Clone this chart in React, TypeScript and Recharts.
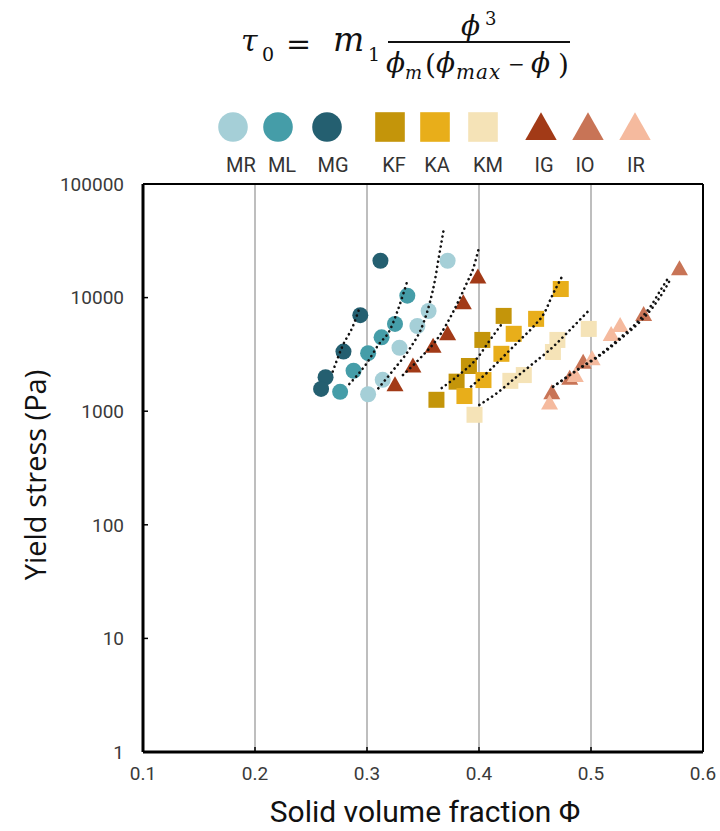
import React from 'react'
import { ScatterChart, Scatter, XAxis, YAxis, CartesianGrid, ReferenceLine } from 'recharts'

// axis ticks
const xTicks = [0.1, 0.2, 0.3, 0.4, 0.5, 0.6]
const yTicks = [1, 10, 100, 1000, 10000, 100000]

// measured points [phi, yield stress Pa]
const MR = [[0.372, 21100], [0.355, 7620], [0.345, 5620], [0.329, 3620], [0.314, 1890], [0.301, 1410]]
const ML = [[0.336, 10400], [0.325, 5860], [0.313, 4470], [0.301, 3240], [0.288, 2270], [0.276, 1480]]
const MG = [[0.312, 21100], [0.294, 7000], [0.279, 3350], [0.263, 1990], [0.259, 1570]]
const KF = [[0.422, 6900], [0.403, 4240], [0.391, 2500], [0.38, 1820], [0.362, 1260]]
const KA = [[0.473, 11900], [0.451, 6500], [0.431, 4800], [0.42, 3200], [0.404, 1880], [0.387, 1360]]
const KM = [[0.498, 5300], [0.47, 4240], [0.466, 3320], [0.44, 2080], [0.428, 1850], [0.396, 930]]
const IG = [[0.399, 15300], [0.386, 9100], [0.372, 4850], [0.359, 3770], [0.341, 2520], [0.325, 1730]]
const IO = [[0.579, 18100], [0.547, 7170], [0.493, 2730], [0.481, 1970], [0.465, 1470]]
const IR = [[0.526, 5740], [0.518, 4790], [0.501, 2920], [0.486, 2080], [0.463, 1190]]

// dotted model curves
const fitMG = [[0.2694, 2230], [0.2786, 3830], [0.2872, 5540], [0.2938, 8420]]
const fitML = [[0.2842, 1735], [0.2997, 2640], [0.3101, 3830], [0.3205, 5190], [0.327, 7510], [0.336, 14000]]
const fitMR = [[0.3101, 1590], [0.3235, 2305], [0.3384, 3580], [0.3503, 5940], [0.3563, 9200], [0.3607, 14290], [0.3637, 21400], [0.3688, 41200]]
const fitIG = [[0.3321, 2083], [0.3473, 2920], [0.3652, 4690], [0.377, 7510], [0.389, 13360], [0.3949, 18100], [0.3994, 26200]]
const fitKF = [[0.3667, 1600], [0.3801, 2013], [0.3994, 3020], [0.4098, 4235], [0.4217, 6100]]
const fitKA = [[0.3929, 1650], [0.4098, 2305], [0.4247, 3235], [0.4366, 4235], [0.4485, 5545], [0.4589, 7510], [0.4649, 10180], [0.4738, 15100]]
const fitKM = [[0.4003, 1135], [0.4158, 1438], [0.4337, 2013], [0.4485, 2640], [0.4663, 3700], [0.4783, 4850], [0.4985, 7780]]
const fitIO = [[0.4663, 1644], [0.4902, 2387], [0.5065, 3020], [0.5288, 4530], [0.5408, 5740], [0.5556, 8320], [0.5646, 11270], [0.5714, 14790]]
const fitIR = [[0.466, 1640], [0.49, 2400], [0.506, 3050], [0.528, 4600], [0.54, 5900], [0.554, 8600], [0.562, 11600], [0.568, 14400]]

const series = [
  { name: 'MR', color: '#A5CFD7', kind: 'circle', data: MR, fit: fitMR, lx: 233, tx: 241 },
  { name: 'ML', color: '#459DA8', kind: 'circle', data: ML, fit: fitML, lx: 278, tx: 282 },
  { name: 'MG', color: '#245F70', kind: 'circle', data: MG, fit: fitMG, lx: 327, tx: 333 },
  { name: 'KF', color: '#C4950A', kind: 'square', data: KF, fit: fitKF, lx: 390, tx: 394 },
  { name: 'KA', color: '#E8AE1A', kind: 'square', data: KA, fit: fitKA, lx: 435, tx: 437 },
  { name: 'KM', color: '#F5E3B7', kind: 'square', data: KM, fit: fitKM, lx: 483, tx: 488 },
  { name: 'IG', color: '#A23A17', kind: 'triangle', data: IG, fit: fitIG, lx: 541, tx: 544 },
  { name: 'IO', color: '#C87456', kind: 'triangle', data: IO, fit: fitIO, lx: 588, tx: 585 },
  { name: 'IR', color: '#F5BA9E', kind: 'triangle', data: IR, fit: fitIR, lx: 635, tx: 636 },
]

const toPts = (arr: number[][]) => arr.map(([x, y]) => ({ x, y }))

function Marker({ cx, cy, kind, color, s = 1 }: any) {
  if (cx == null || cy == null) return <g />
  if (kind === 'circle') return <circle cx={cx} cy={cy} r={8 * s} fill={color} />
  if (kind === 'square') return <rect x={cx - 8 * s} y={cy - 8 * s} width={16 * s} height={16 * s} fill={color} />
  return (
    <polygon
      points={`${cx},${cy - 8 * s} ${cx + 8.5 * s},${cy + 7 * s} ${cx - 8.5 * s},${cy + 7 * s}`}
      fill={color}
    />
  )
}

const tickFont = { fontFamily: 'Roboto', fontSize: 19, fill: '#3a3a3a' }
const serif = 'DejaVu Serif'

export default function App() {
  return (
    <div style={{ position: 'absolute', left: 0, top: 0, width: 720, height: 831, background: '#fff' }}>
      <ScatterChart width={720} height={831} margin={{ top: 184, right: 17, bottom: 39, left: 0 }}>
        <CartesianGrid horizontal={false} stroke="#a8a8a8" strokeWidth={1.5} />
        <XAxis
          type="number"
          dataKey="x"
          domain={[0.1, 0.6]}
          ticks={xTicks}
          height={40}
          tickFormatter={(v) => v.toFixed(1)}
          tick={tickFont}
          tickSize={-5}
          tickMargin={20}
          axisLine={{ stroke: '#000', strokeWidth: 3 }}
          tickLine={{ stroke: '#000', strokeWidth: 1.5 }}
        />
        <YAxis
          type="number"
          dataKey="y"
          scale="log"
          domain={[1, 100000]}
          ticks={yTicks}
          allowDataOverflow
          width={143}
          tickFormatter={(v) => String(v)}
          tick={tickFont}
          tickSize={-5}
          tickMargin={24}
          axisLine={{ stroke: '#000', strokeWidth: 3 }}
          tickLine={{ stroke: '#000', strokeWidth: 1.5 }}
        />
        <ReferenceLine y={100000} stroke="#000" strokeWidth={2} />
        <ReferenceLine x={0.6} stroke="#000" strokeWidth={2} />
        {series.map((s) => (
          <Scatter
            key={s.name}
            name={s.name}
            data={toPts(s.data)}
            isAnimationActive={false}
            shape={(p: any) => <Marker cx={p.cx} cy={p.cy} kind={s.kind} color={s.color} />}
          />
        ))}
        {series.map((s) => (
          <Scatter
            key={'fit' + s.name}
            data={toPts(s.fit)}
            isAnimationActive={false}
            line={{ stroke: '#111', strokeWidth: 2.6, strokeDasharray: '0.1 5', strokeLinecap: 'round' }}
            lineJointType="monotoneX"
            shape={() => <g />}
          />
        ))}
      </ScatterChart>

      <svg width={720} height={831} style={{ position: 'absolute', left: 0, top: 0, pointerEvents: 'none' }}>
        {/* formula */}
        <g fill="#111" fontFamily={serif}>
          <text fontSize={30}>
            <tspan x={241} y={51} fontStyle="italic">τ</tspan>
            <tspan x={262} y={61} fontSize={19}>0</tspan>
            <tspan x={286} y={54}>=</tspan>
            <tspan x={333} y={51} fontSize={33} fontStyle="italic">m</tspan>
            <tspan x={368} y={61} fontSize={19}>1</tspan>
          </text>
          <line x1={388} x2={570} y1={42} y2={42} stroke="#111" strokeWidth={2} />
          <text fontSize={28}>
            <tspan x={461} y={35} fontStyle="italic">ϕ</tspan>
            <tspan x={485} y={25} fontSize={18}>3</tspan>
          </text>
          <text fontSize={28}>
            <tspan x={386} y={72} fontStyle="italic">ϕ</tspan>
            <tspan x={405} y={79} fontSize={18} fontStyle="italic">m</tspan>
            <tspan x={425} y={74}>(</tspan>
            <tspan x={436} y={72} fontStyle="italic">ϕ</tspan>
            <tspan x={456} y={79} fontSize={20} fontStyle="italic" letterSpacing={1}>max</tspan>
            <tspan x={508} y={71} fontSize={20}>−</tspan>
            <tspan x={531} y={72} fontStyle="italic">ϕ</tspan>
            <tspan x={558} y={74}>)</tspan>
          </text>
        </g>
        {/* legend */}
        {series.map((s) => (
          <g key={'lg' + s.name}>
            <Marker cx={s.lx} cy={127} kind={s.kind} color={s.color} s={1.85} />
            <text x={s.tx} y={172} textAnchor="middle" fontFamily="Roboto" fontSize={20} fill="#333">
              {s.name}
            </text>
          </g>
        ))}
        {/* axis titles */}
        <text x={425} y={822} textAnchor="middle" fontFamily="Roboto" fontSize={30} fill="#111">
          Solid volume fraction Φ
        </text>
        <text
          x={0}
          y={0}
          transform="translate(46 475) rotate(-90)"
          textAnchor="middle"
          fontFamily="Open Sans"
          fontSize={29}
          fill="#111"
        >
          Yield stress (Pa)
        </text>
      </svg>
    </div>
  )
}
